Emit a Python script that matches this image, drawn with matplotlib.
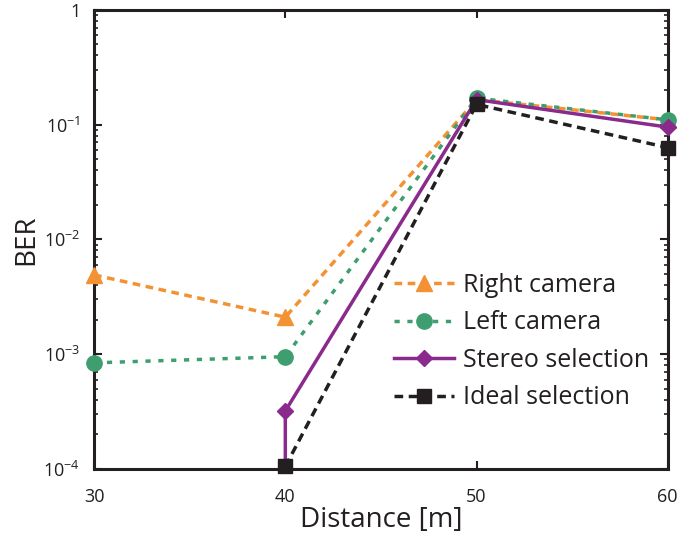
import math
import matplotlib
matplotlib.use("Agg")
import matplotlib.pyplot as plt
from matplotlib.ticker import LogLocator, FixedLocator, FuncFormatter, NullFormatter

plt.rcParams['font.family'] = ['Open Sans', 'DejaVu Sans']
plt.rcParams['mathtext.fontset'] = 'custom'
plt.rcParams['mathtext.rm'] = 'Open Sans'
plt.rcParams['mathtext.it'] = 'Open Sans'

dist = [30, 40, 50, 60]
right_cam = [4.9e-3, 2.1e-3, 0.165, 0.11]
left_cam = [8.4e-4, 9.5e-4, 0.17, 0.11]
stereo_x = [40, 40, 50, 60]
stereo_sel = [1e-4, 3.2e-4, 0.165, 0.095]
ideal_x = [40, 50, 60]
ideal_sel = [1.05e-4, 0.15, 0.063]

fig = plt.figure(figsize=(6.97, 5.44), dpi=100)
ax = fig.add_axes([0.135, 0.138, 0.823, 0.844])

ax.plot(dist, right_cam, color='#F39233', ls=(0, (2.2, 1.6)), lw=2.5,
        marker='^', ms=11, label='Right camera', clip_on=False, zorder=3)
ax.plot(dist, left_cam, color='#3F9E6F', ls=(0, (1.5, 2.2)), lw=2.5,
        marker='o', ms=11, label='Left camera', clip_on=False, zorder=3)
ax.plot(stereo_x, stereo_sel, color='#8A2A8C', ls='-', lw=2.5,
        marker='D', ms=8, markevery=[1, 2, 3], label='Stereo selection',
        clip_on=False, zorder=4)
ax.plot(ideal_x, ideal_sel, color='#231F20', ls=(0, (2.5, 1.6)), lw=2.5,
        marker='s', ms=10, label='Ideal selection', clip_on=False, zorder=5)

ax.set_yscale('log')
ax.set_xlim(30, 60)
ax.set_ylim(1e-4, 1)
ax.xaxis.set_major_locator(FixedLocator(dist))
ax.yaxis.set_major_locator(LogLocator(base=10, numticks=10))
ax.yaxis.set_minor_locator(LogLocator(base=10, subs=range(2, 10), numticks=10))
ax.yaxis.set_minor_formatter(NullFormatter())


def fmt(v, pos):
    if abs(v - 1) < 1e-9:
        return '1'
    return r'$10^{%d}$' % round(math.log10(v))


ax.yaxis.set_major_formatter(FuncFormatter(fmt))

for s in ax.spines.values():
    s.set_linewidth(2.2)
    s.set_color('#231F20')
ax.tick_params(which='both', direction='in', top=True, right=True, colors='#231F20')
ax.tick_params(which='major', length=6, width=1.5, labelsize=13, pad=10)
ax.tick_params(axis='x', which='major', pad=14)
ax.tick_params(which='minor', length=3, width=1.2)

ax.set_xlabel('Distance [m]', fontsize=20, color='#231F20', labelpad=0)
ax.set_ylabel('BER', fontsize=20, color='#231F20', labelpad=2)

leg = ax.legend(loc='lower right', bbox_to_anchor=(0.993, 0.095), frameon=False,
                fontsize=18, handlelength=2.4, handletextpad=0.35,
                labelspacing=0.5, borderaxespad=0.2)
for t in leg.get_texts():
    t.set_color('#231F20')

fig.savefig('out.png', dpi=100)
